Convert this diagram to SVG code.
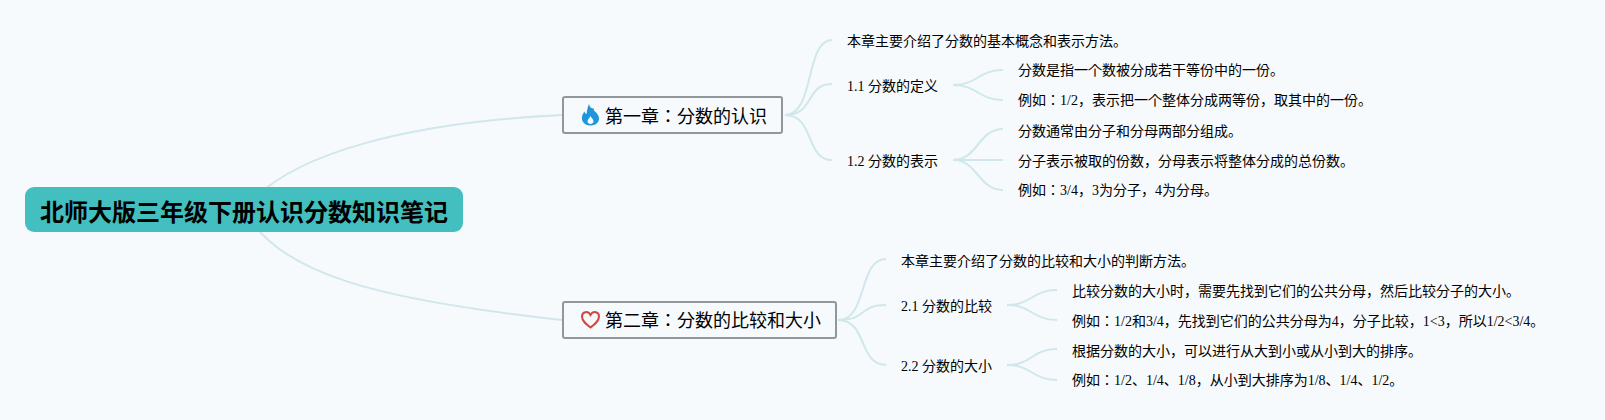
<svg xmlns="http://www.w3.org/2000/svg" width="1605" height="420" viewBox="0 0 1605 420">
<style>
text{font-family:"Liberation Serif","Noto Sans CJK JP",serif;fill:#000}
.root{font-size:24px;font-weight:700}
.ch{font-size:18px}
.t{font-size:14px}
.c{fill:none;stroke:#d0e7ec;stroke-width:2}
.box{fill:#f6fafc;stroke:#92979b;stroke-width:2}
</style>
<rect width="1605" height="420" fill="#f6fafc"/>
<g id="connectors">
<path class="c" d="M244 210C290 150 420 122 562 115"/>
<path class="c" d="M244 210C280 275 380 300 562 320"/>
<path class="c" d="M785 115C815 115 805 40 832 40"/>
<path class="c" d="M785 115C815 115 805 84 832 84"/>
<path class="c" d="M785 115C815 115 805 160 832 160"/>
<path class="c" d="M953 85C978 85 978 70 1003 70"/>
<path class="c" d="M953 85C978 85 978 100 1003 100"/>
<path class="c" d="M953 160C978 160 978 129 1003 129"/>
<path class="c" d="M953 160H1003"/>
<path class="c" d="M953 160C978 160 978 190 1003 190"/>
<path class="c" d="M838 320C868 320 858 259 886 259"/>
<path class="c" d="M838 320C868 320 858 305 886 305"/>
<path class="c" d="M838 320C868 320 858 365 886 365"/>
<path class="c" d="M1007 305C1032 305 1032 290 1057 290"/>
<path class="c" d="M1007 305C1032 305 1032 320 1057 320"/>
<path class="c" d="M1007 365C1032 365 1032 349 1057 349"/>
<path class="c" d="M1007 365C1032 365 1032 380 1057 380"/>
</g>
<g id="root"><rect x="25" y="187" width="438" height="45" rx="9" fill="#43bfbf"/><text class="root" x="40" y="221">北师大版三年级下册认识分数知识笔记</text></g>
<g id="ch1"><rect class="box" x="563" y="97" width="219" height="36" rx="2"/>
<path fill-rule="evenodd" d="M589 104C590 108 592 109 594 108.500C593.500 110 594 111 595 111.500C599 115 600 119 598 122C596.500 124.500 593.500 125.500 590.500 125.500C587.500 125.500 584.500 124.500 583 122C581 118.500 582 114.500 584.500 111.500C585 113 585.500 114 586.500 114C587 111 587.500 107 589 104ZM590.500 116C589.500 118 587.500 119.500 587.500 121.500C587.500 123 589 124 590.500 124C592 124 593.500 123 593.500 121.500C593.500 119.500 591.500 118 590.500 116Z" fill="#1f96dc"/>
<text class="ch" x="605" y="123">第一章：分数的认识</text></g>
<g id="ch2"><rect class="box" x="563" y="302" width="273" height="36" rx="2"/>
<path d="M590.500 327.500C586 324 582 321 582 316.500C582 311.500 588 310.500 590.500 315C593 310.500 599 311.500 599 316.500C599 321 595 324 590.500 327.500Z" fill="none" stroke="#cf4a3c" stroke-width="2"/>
<text class="ch" x="605" y="327">第二章：分数的比较和大小</text></g>
<g id="n1"><text class="t" x="847" y="46">本章主要介绍了分数的基本概念和表示方法。</text></g>
<g id="n2"><text class="t" x="847" y="91">1.1 分数的定义</text></g>
<g id="n3"><text class="t" x="1018" y="75">分数是指一个数被分成若干等份中的一份。</text></g>
<g id="n4"><text class="t" x="1018" y="105">例如：1/2，表示把一个整体分成两等份，取其中的一份。</text></g>
<g id="n5"><text class="t" x="847" y="166">1.2 分数的表示</text></g>
<g id="n6"><text class="t" x="1018" y="136">分数通常由分子和分母两部分组成。</text></g>
<g id="n7"><text class="t" x="1018" y="166">分子表示被取的份数，分母表示将整体分成的总份数。</text></g>
<g id="n8"><text class="t" x="1018" y="195">例如：3/4，3为分子，4为分母。</text></g>
<g id="n9"><text class="t" x="901" y="266">本章主要介绍了分数的比较和大小的判断方法。</text></g>
<g id="n10"><text class="t" x="901" y="311">2.1 分数的比较</text></g>
<g id="n11"><text class="t" x="1072" y="296">比较分数的大小时，需要先找到它们的公共分母，然后比较分子的大小。</text></g>
<g id="n12"><text class="t" x="1072" y="326">例如：1/2和3/4，先找到它们的公共分母为4，分子比较，1&lt;3，所以1/2&lt;3/4。</text></g>
<g id="n13"><text class="t" x="901" y="371">2.2 分数的大小</text></g>
<g id="n14"><text class="t" x="1072" y="356">根据分数的大小，可以进行从大到小或从小到大的排序。</text></g>
<g id="n15"><text class="t" x="1072" y="385">例如：1/2、1/4、1/8，从小到大排序为1/8、1/4、1/2。</text></g>
</svg>
